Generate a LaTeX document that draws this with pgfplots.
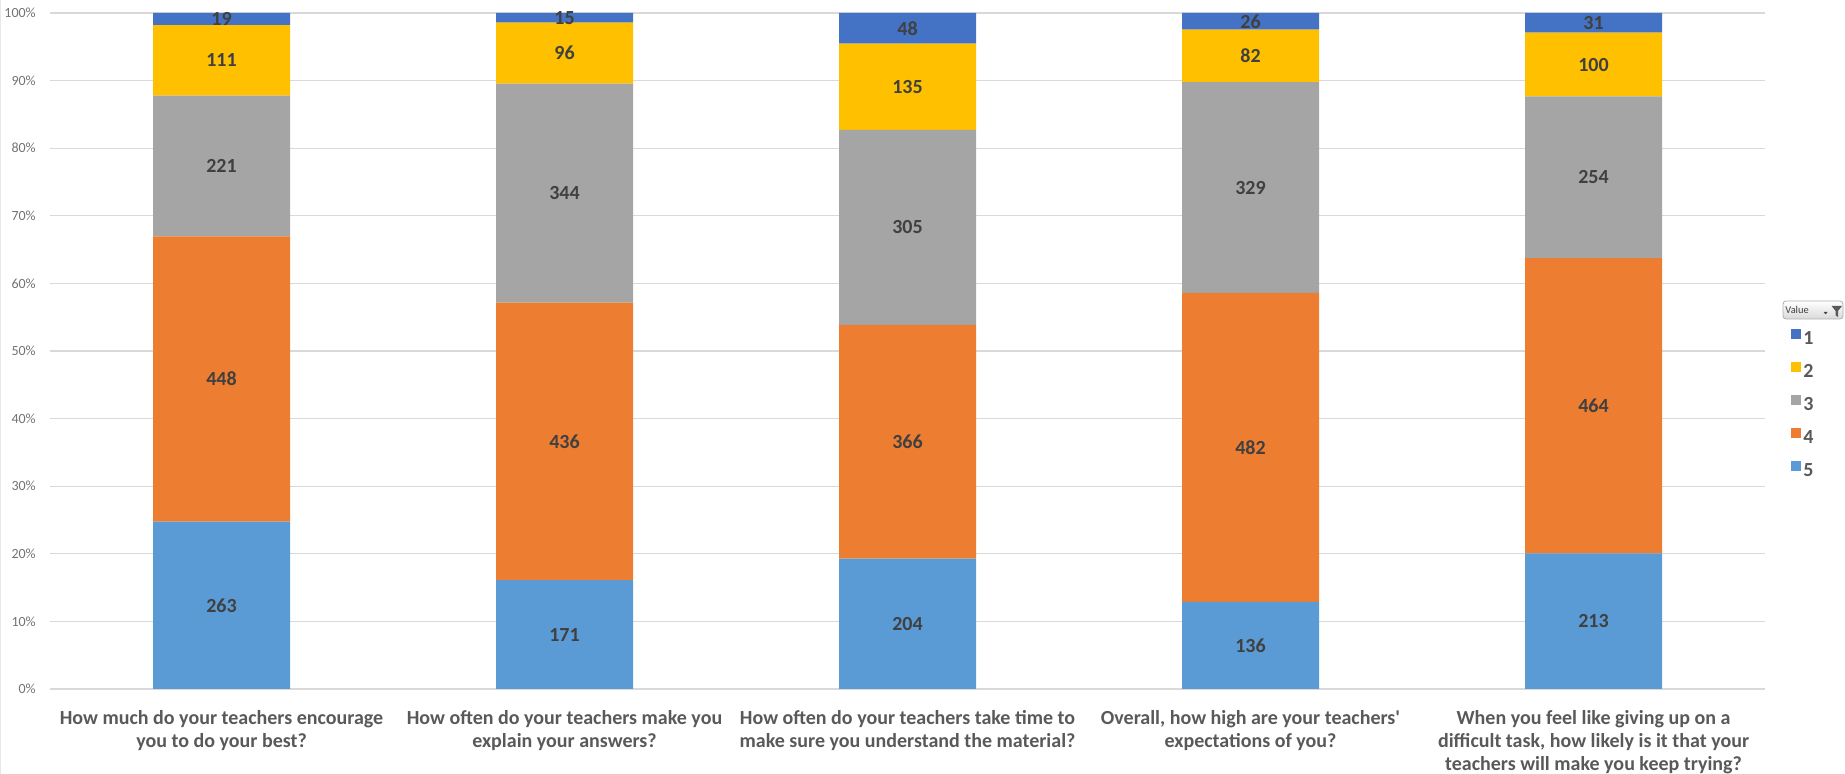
\documentclass[border=0pt]{standalone}
\usepackage{pgfplots}
\usepackage{pgfplotstable}
\pgfplotsset{compat=1.18}
\usepackage{fontspec}
\setmainfont{Carlito}
\newfontfamily\plainfont{Carlito}
\definecolor{cA}{HTML}{4472C4}
\definecolor{cB}{HTML}{FFC000}
\definecolor{cC}{HTML}{A5A5A5}
\definecolor{cD}{HTML}{ED7D31}
\definecolor{cE}{HTML}{5B9BD5}
\definecolor{tx}{HTML}{595959}
\definecolor{tl}{HTML}{404040}
\definecolor{ty}{HTML}{737373}
\definecolor{grd}{HTML}{D9D9D9}
\pgfplotstableread{
x c5 c4 c3 c2 c1
0 263 448 221 111 19
1 171 436 344 96 15
2 204 366 305 135 48
3 136 482 329 82 26
4 213 464 254 100 31
}\data
\newcommand{\tot}{(\thisrow{c1}+\thisrow{c2}+\thisrow{c3}+\thisrow{c4}+\thisrow{c5})}
\begin{document}
\begin{tikzpicture}
\useasboundingbox (0,0) rectangle (922.5pt,387pt);
\draw[grd!60, line width=0.5pt] (0.4pt,0) -- (0.4pt,387pt);
\begin{axis}[
  at={(25pt,42.5pt)}, anchor=south west,
  scale only axis, width=857.5pt, height=338pt,
  ybar stacked, bar width=68.5pt,
  xmin=-0.5, xmax=4.5, ymin=0, ymax=100,
  axis lines=left, axis line style={draw=none},
  major tick length=0pt,
  ymajorgrids, grid style={draw=grd, line width=0.6pt},
  ytick={0,10,...,100},
  yticklabels={0\%,10\%,20\%,30\%,40\%,50\%,60\%,70\%,80\%,90\%,100\%},
  yticklabel style={font=\fontsize{7}{8}\selectfont, text=ty, xshift=-3.6pt},
  xtick={0,1,2,3,4},
  xticklabels={
    {How much do your teachers encourage\\you to do your best?},
    {How often do your teachers make you\\explain your answers?},
    {How often do your teachers take time to\\make sure you understand the material?},
    {Overall, how high are your teachers{\plainfont'}\\expectations of you?},
    {When you feel like giving up on a\\difficult task, how likely is it that your\\teachers will make you keep trying?}},
  xticklabel style={font=\bfseries\fontsize{10}{11.6}\selectfont, text=tx, align=center, yshift=-7pt},
  /pgf/number format/assume math mode=true,
  reverse legend,
  legend style={at={(1.0117,0.539)}, anchor=north west, draw=none, fill=none,
    font=\bfseries\fontsize{10}{11}\selectfont, text=tx,
    nodes={text height=6.5pt, text depth=0pt, inner sep=1pt},
    row sep=7.75pt,
    /tikz/every even column/.append style={column sep=2pt}},
  legend cell align=left,
  legend image code/.code={\fill[#1] (0pt,-0.5pt) rectangle (5pt,4.5pt);},
]
\addplot[fill=cE, draw=none] table[x=x, y expr={\thisrow{c5}/\tot*100}]{\data};
\addplot[fill=cD, draw=none] table[x=x, y expr={\thisrow{c4}/\tot*100}]{\data};
\addplot[fill=cC, draw=none] table[x=x, y expr={\thisrow{c3}/\tot*100}]{\data};
\addplot[fill=cB, draw=none] table[x=x, y expr={\thisrow{c2}/\tot*100}]{\data};
\addplot[fill=cA, draw=none] table[x=x, y expr={\thisrow{c1}/\tot*100}]{\data};
\legend{5,4,3,2,1}
\end{axis}
\begin{axis}[
  at={(25pt,42.5pt)}, anchor=south west,
  scale only axis, width=857.5pt, height=338pt,
  xmin=-0.5, xmax=4.5, ymin=0, ymax=100,
  hide axis, clip=false,
  point meta=explicit,
  /pgf/number format/assume math mode=true,
  nodes near coords,
  every node near coord/.append style={anchor=center, font=\bfseries\fontsize{10}{11}\selectfont, text=tl},
]
\addplot[only marks, mark=*, mark size=0pt, mark options={draw=none, fill=none}] table[x=x, y expr={0.5*\thisrow{c5}/\tot*100}, meta=c5]{\data};
\addplot[only marks, mark=*, mark size=0pt, mark options={draw=none, fill=none}] table[x=x, y expr={(\thisrow{c5}+0.5*\thisrow{c4})/\tot*100}, meta=c4]{\data};
\addplot[only marks, mark=*, mark size=0pt, mark options={draw=none, fill=none}] table[x=x, y expr={(\thisrow{c5}+\thisrow{c4}+0.5*\thisrow{c3})/\tot*100}, meta=c3]{\data};
\addplot[only marks, mark=*, mark size=0pt, mark options={draw=none, fill=none}] table[x=x, y expr={(\thisrow{c5}+\thisrow{c4}+\thisrow{c3}+0.5*\thisrow{c2})/\tot*100}, meta=c2]{\data};
\addplot[only marks, mark=*, mark size=0pt, mark options={draw=none, fill=none}] table[x=x, y expr={(\thisrow{c5}+\thisrow{c4}+\thisrow{c3}+\thisrow{c2}+0.5*\thisrow{c1})/\tot*100}, meta=c1]{\data};
\end{axis}
% filter button
\draw[rounded corners=1.5pt, draw=grd!80!black, top color=white, bottom color=grd] (891.5pt,227.5pt) rectangle (921.5pt,236.5pt);
\node[font=\fontsize{5.2}{6}\selectfont, text=tl, anchor=west, inner sep=0pt] at (892.5pt,232pt) {Value};
\fill[tl] (911.8pt,231pt) -- (913.8pt,231pt) -- (912.8pt,229.8pt) -- cycle;
\fill[tx] (915.8pt,234pt) -- (921pt,234pt) -- (919pt,231.5pt) -- (919pt,228.5pt) -- (917.8pt,229.3pt) -- (917.8pt,231.5pt) -- cycle;
\end{tikzpicture}
\end{document}
